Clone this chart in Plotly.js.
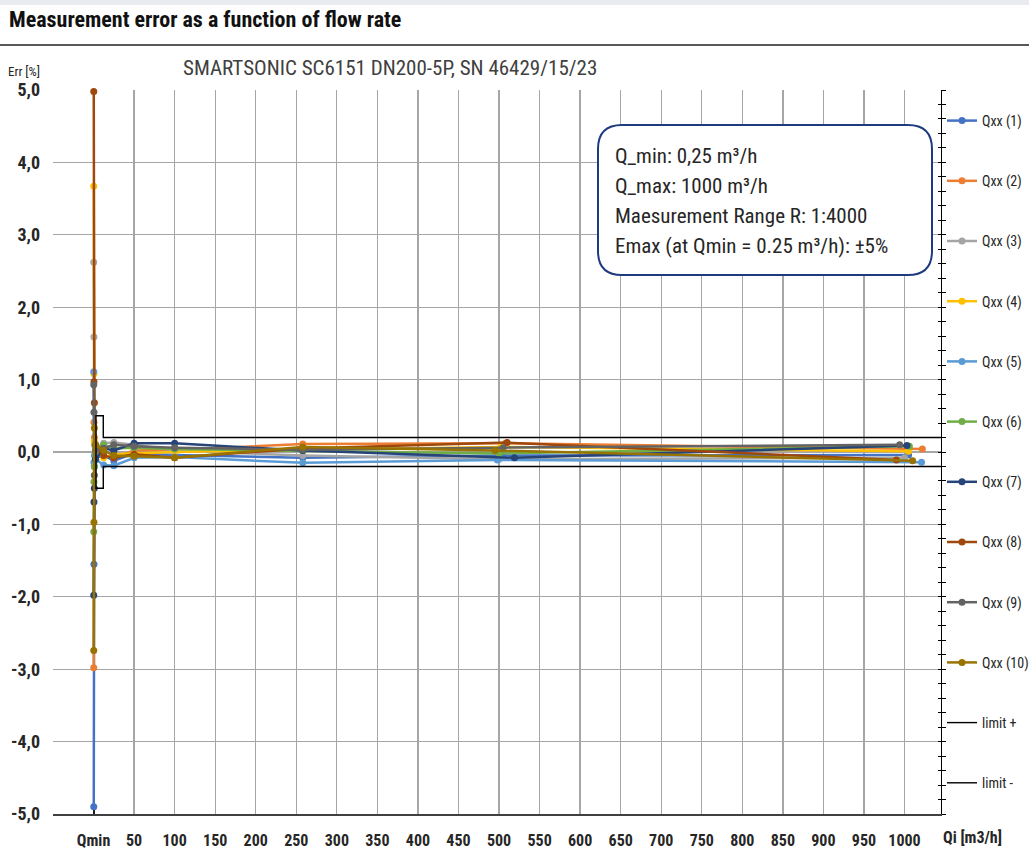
<!DOCTYPE html>
<html>
<head>
<meta charset="utf-8">
<script src="https://cdn.plot.ly/plotly-3.0.1.min.js"></script>
<style>
  html, body { margin: 0; padding: 0; background: #ffffff; }
  #chart { width: 1029px; height: 851px; }
</style>
</head>
<body>
<div id="chart"></div>
<script>
// ---------------- DATA ----------------
const seriesNames = ["Qxx (1)", "Qxx (2)", "Qxx (3)", "Qxx (4)", "Qxx (5)", "Qxx (6)", "Qxx (7)", "Qxx (8)", "Qxx (9)", "Qxx (10)"];
const seriesColors = ["#4472C4", "#ED7D31", "#A5A5A5", "#FFC000", "#5B9BD5", "#70AD47", "#264478", "#9E480E", "#636363", "#997300"];

const flow1  = [0.25, 0.5, 1, 2.5, 12.5, 25, 50, 100, 258, 505, 1005];
const err1   = [-4.90, -1.55, -0.20, -0.08, -0.05, -0.12, -0.02, -0.04, -0.08, -0.05, -0.04];
const flow2  = [0.25, 0.5, 1, 2.5, 12.5, 25, 50, 100, 258, 508, 1022];
const err2   = [-2.98, 0.41, 0.20, 0.05, -0.05, -0.08, 0.02, 0.03, 0.11, 0.12, 0.04];
const flow3  = [0.25, 0.5, 1, 2.5, 12.5, 25, 50, 100, 258, 500, 1000];
const err3   = [2.62, 1.59, 0.10, 0.05, 0.12, 0.13, 0.10, 0.02, -0.05, -0.10, -0.08];
const flow4  = [0.25, 0.5, 1, 2.5, 12.5, 25, 50, 100, 258, 502, 1005];
const err4   = [3.67, 1.08, 0.15, 0.02, -0.08, -0.03, -0.02, 0.00, 0.03, 0.07, 0.01];
const flow5  = [0.25, 0.5, 1, 2.5, 12.5, 25, 50, 100, 258, 498, 1021];
const err5   = [1.11, -0.14, -0.05, -0.10, -0.18, -0.19, -0.08, -0.07, -0.15, -0.11, -0.14];
const flow6  = [0.25, 0.5, 1, 2.5, 12.5, 25, 50, 100, 258, 500, 1006];
const err6   = [-1.10, -0.41, -0.20, 0.05, 0.10, 0.05, 0.06, 0.04, 0.02, -0.02, 0.08];
const flow7  = [0.25, 0.5, 1, 2.5, 12.5, 25, 50, 100, 258, 519, 1003];
const err7   = [-1.98, -0.69, -0.50, -0.10, 0.05, 0.02, 0.12, 0.12, 0.02, -0.08, 0.09];
const flow8  = [0.25, 0.5, 1, 2.5, 12.5, 25, 50, 100, 258, 510, 990];
const err8   = [4.98, 0.97, 0.68, 0.10, -0.05, -0.08, -0.03, -0.08, 0.05, 0.13, -0.11];
const flow9  = [0.25, 0.5, 1, 2.5, 12.5, 25, 50, 100, 258, 505, 994];
const err9   = [0.93, 0.55, -0.32, 0.02, 0.05, 0.10, 0.08, 0.06, 0.03, 0.06, 0.10];
const flow10 = [0.25, 0.5, 1, 2.5, 12.5, 25, 50, 100, 258, 495, 1010];
const err10  = [-2.74, -0.97, 0.33, 0.10, 0.02, -0.05, -0.06, -0.08, 0.07, 0.02, -0.12];

const limitFlow  = [3, 3, 12, 12, 1045];
const limitPlus  = [0, 0.5, 0.5, 0.2, 0.2];
const limitMinus = [0, -0.5, -0.5, -0.2, -0.2];

const xTickVals = [0, 50, 100, 150, 200, 250, 300, 350, 400, 450, 500, 550, 600, 650, 700, 750, 800, 850, 900, 950, 1000];
const xTickText = ["Qmin", "50", "100", "150", "200", "250", "300", "350", "400", "450", "500", "550", "600", "650", "700", "750", "800", "850", "900", "950", "1000"];
const yTickVals = [-5, -4, -3, -2, -1, 0, 1, 2, 3, 4, 5];
const yTickText = ["-5,0", "-4,0", "-3,0", "-2,0", "-1,0", "0,0", "1,0", "2,0", "3,0", "4,0", "5,0"];

const infoLines = [
  "Q_min: 0,25 m³/h",
  "Q_max: 1000 m³/h",
  "Maesurement Range R: 1:4000",
  "Emax (at Qmin = 0.25 m³/h): ±5%"
];
const chartTitle = "Measurement error as a function of flow rate";
const chartSubtitle = "SMARTSONIC SC6151 DN200-5P, SN 46429/15/23";

// ---------------- LAYOUT HELPERS ----------------
const W = 1029, H = 851;
const M = { l: 53, r: 88, t: 90, b: 37, autoexpand: false };
const PW = W - M.l - M.r, PH = H - M.t - M.b;
const px = x => (x - M.l) / PW;
const py = y => 1 - (y - M.t) / PH;

const NARROW = "'Liberation Sans Narrow', 'Arial Narrow', 'Roboto Condensed', sans-serif";

const flows = [flow1, flow2, flow3, flow4, flow5, flow6, flow7, flow8, flow9, flow10];
const errs = [err1, err2, err3, err4, err5, err6, err7, err8, err9, err10];

const traces = seriesNames.map((name, i) => ({
  type: "scatter",
  mode: "lines+markers",
  name: name,
  legendgroup: "g" + i,
  x: flows[i],
  y: errs[i],
  line: { color: seriesColors[i], width: 2.5 },
  marker: { color: seriesColors[i], size: 7 },
  cliponaxis: false
}));
traces.push({
  type: "scatter", mode: "lines", name: "limit +", legendgroup: "lp",
  x: limitFlow, y: limitPlus, yaxis: "y2",
  line: { color: "#000000", width: 1.4 }
});
traces.push({
  type: "scatter", mode: "lines", name: "limit -", legendgroup: "lm",
  x: limitFlow, y: limitMinus, yaxis: "y3",
  line: { color: "#000000", width: 1.4 }
});

// rounded info box
function roundedRect(x0p, y0p, x1p, y1p, r) {
  const X0 = px(x0p), X1 = px(x1p), Yt = py(y0p), Yb = py(y1p);
  const rx = r / PW, ry = r / PH;
  return `M ${X0 + rx},${Yt} L ${X1 - rx},${Yt} Q ${X1},${Yt} ${X1},${Yt - ry} ` +
         `L ${X1},${Yb + ry} Q ${X1},${Yb} ${X1 - rx},${Yb} ` +
         `L ${X0 + rx},${Yb} Q ${X0},${Yb} ${X0},${Yb + ry} ` +
         `L ${X0},${Yt - ry} Q ${X0},${Yt} ${X0 + rx},${Yt} Z`;
}

const annotations = [
  { text: "<b>" + chartTitle + "</b>", xref: "paper", yref: "paper", x: px(7), y: py(20),
    xanchor: "left", yanchor: "middle", showarrow: false,
    font: { family: NARROW, size: 22, color: "#111111" } },
  { text: chartSubtitle, xref: "paper", yref: "paper", x: px(181), y: py(68),
    xanchor: "left", yanchor: "middle", showarrow: false,
    font: { family: NARROW, size: 21, color: "#404040" } },
  { text: "Err [%]", xref: "paper", yref: "paper", x: px(6), y: py(72),
    xanchor: "left", yanchor: "middle", showarrow: false,
    font: { family: NARROW, size: 13, color: "#262626" } },
  { text: "<b>Qi [m3/h]</b>", xref: "paper", yref: "paper", x: px(941), y: py(837),
    xanchor: "left", yanchor: "middle", showarrow: false,
    font: { family: NARROW, size: 16, color: "#262626" } }
];
infoLines.forEach((t, i) => annotations.push({
  text: t, xref: "paper", yref: "paper", x: px(613), y: py(156 + 30 * i),
  xanchor: "left", yanchor: "middle", showarrow: false,
  font: { family: NARROW, size: 21, color: "#262626" }
}));

const shapes = [
  { type: "rect", xref: "paper", yref: "paper", x0: px(0), x1: px(W), y0: py(0), y1: py(5),
    fillcolor: "#E8ECF0", line: { width: 0 }, layer: "below" },
  { type: "line", xref: "paper", yref: "paper", x0: px(0), x1: px(W), y0: py(45), y1: py(45),
    line: { color: "#595959", width: 2 } },
  { type: "path", xref: "paper", yref: "paper", path: roundedRect(598, 125, 932, 275, 24),
    fillcolor: "#FFFFFF", line: { color: "#1F3B7F", width: 2 }, layer: "above" }
];

const layout = {
  width: W, height: H,
  margin: M,
  paper_bgcolor: "#FFFFFF",
  plot_bgcolor: "#FFFFFF",
  showlegend: true,
  legend: {
    x: px(942), y: py(105), xanchor: "left", yanchor: "top",
    font: { family: NARROW, size: 14, color: "#262626" },
    tracegroupgap: 39, bgcolor: "rgba(0,0,0,0)", borderwidth: 0,
    itemwidth: 30
  },
  xaxis: {
    range: [-50, 1045],
    tickvals: xTickVals, ticktext: xTickText,
    showgrid: true, gridcolor: "#A6A6A6", gridwidth: 1.3,
    zeroline: true, zerolinecolor: "#1A1A1A", zerolinewidth: 2,
    showline: true, linecolor: "#404040", linewidth: 1.5,
    ticks: "", ticklabelstandoff: 11,
    tickfont: { family: NARROW, size: 16, color: "#262626", weight: "bold" }
  },
  yaxis: {
    range: [-5, 5],
    tickvals: yTickVals, ticktext: yTickText,
    showgrid: true, gridcolor: "#A6A6A6", gridwidth: 1.3,
    zeroline: false, showline: false, ticks: "", ticklabelstandoff: 12,
    tickfont: { family: NARROW, size: 18, color: "#262626", weight: "bold" }
  },
  yaxis2: {
    range: [-5, 5], overlaying: "y", side: "right",
    showgrid: false, zeroline: false, showticklabels: false,
    showline: true, linecolor: "#000000", linewidth: 1.3,
    ticks: "inside", ticklen: 3, tickcolor: "#000000", tick0: 0, dtick: 0.2
  },
  yaxis3: {
    range: [-5, 5], overlaying: "y", side: "right",
    showgrid: false, zeroline: false, showticklabels: false,
    showline: false,
    ticks: "outside", ticklen: 4, tickcolor: "#000000", tick0: 0, dtick: 0.2
  },
  annotations: annotations,
  shapes: shapes
};

Plotly.newPlot("chart", traces, layout, { displayModeBar: false, staticPlot: true });
</script>
</body>
</html>
